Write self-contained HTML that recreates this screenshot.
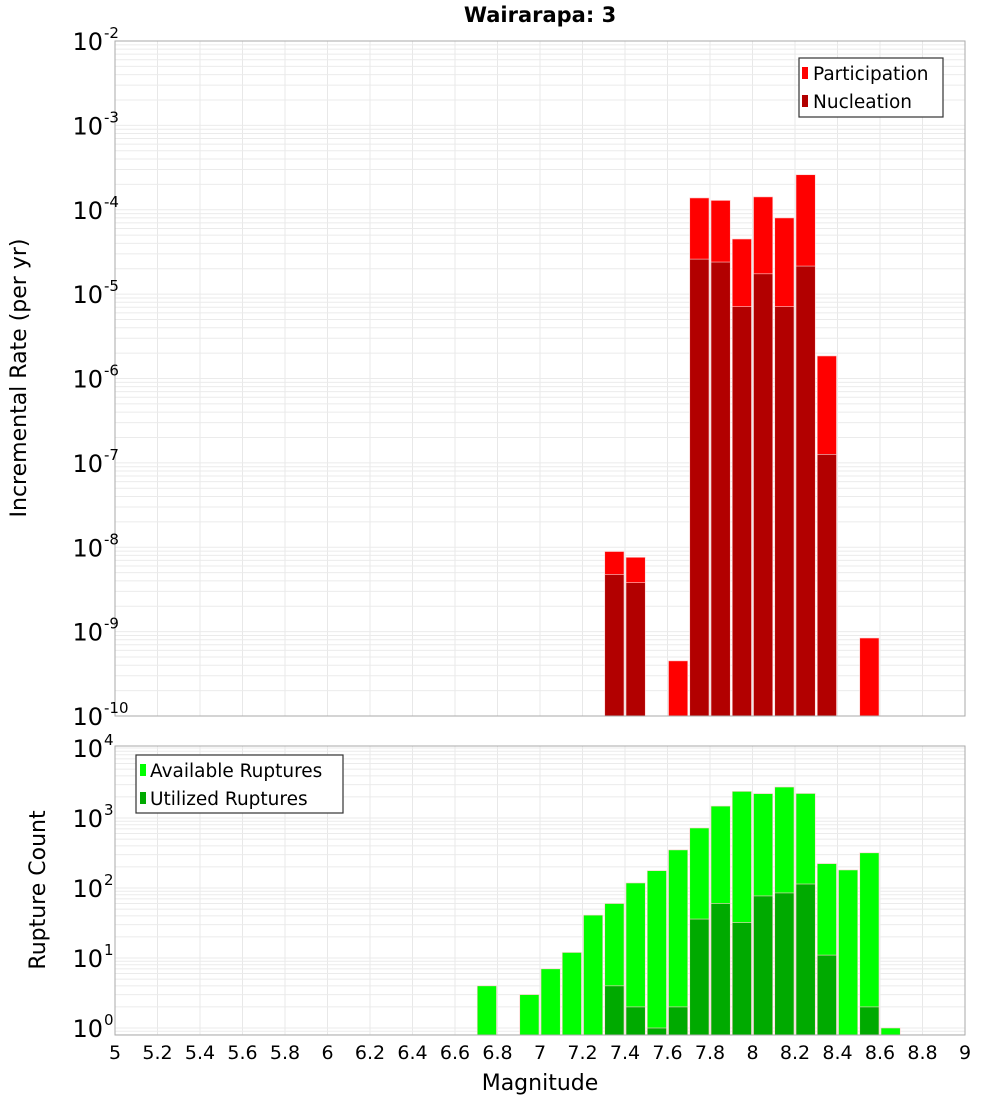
<!DOCTYPE html>
<html><head><meta charset="utf-8"><style>
html,body{margin:0;padding:0;background:#fff;}
svg{display:block;font-family:"DejaVu Sans","Liberation Sans",sans-serif;}
</style></head><body>
<svg id="chart" width="1000" height="1100" viewBox="0 0 1000 1100" xmlns="http://www.w3.org/2000/svg">
<text x="540" y="22" font-size="21" font-weight="bold" text-anchor="middle">Wairarapa: 3</text>
<g id="gtop"></g>
<g id="gbot"></g>
<text transform="translate(26,378) rotate(-90)" font-size="22" text-anchor="middle">Incremental Rate (per yr)</text>
<text transform="translate(45,890) rotate(-90)" font-size="22" text-anchor="middle">Rupture Count</text>
<text x="540" y="1090" font-size="22" text-anchor="middle">Magnitude</text>
<g>
<rect x="799" y="58" width="144" height="59" fill="#fff" stroke="#333" stroke-width="1.2"/>
<rect x="802" y="67" width="6" height="12" fill="#ff0000"/>
<text x="813" y="80" font-size="18.5">Participation</text>
<rect x="802" y="95" width="6" height="12" fill="#b20000"/>
<text x="813" y="108" font-size="18.5">Nucleation</text>
</g>
<g>
<rect x="136" y="755" width="207" height="58" fill="#fff" stroke="#333" stroke-width="1.2"/>
<rect x="140" y="764" width="6" height="12" fill="#00ff00"/>
<text x="150" y="777" font-size="18.5">Available Ruptures</text>
<rect x="140" y="792" width="6" height="12" fill="#00aa00"/>
<text x="150" y="805" font-size="18.5">Utilized Ruptures</text>
</g>
</svg>
<script>
const mags = [6.75,6.95,7.05,7.15,7.25,7.35,7.45,7.55,7.65,7.75,7.85,7.95,8.05,8.15,8.25,8.35,8.45,8.55,8.65];
const participation = [0,0,0,0,0,8.9e-9,7.6e-9,0,4.5e-10,1.38e-4,1.29e-4,4.5e-5,1.42e-4,8e-5,2.6e-4,1.85e-6,0,8.4e-10,0];
const nucleation = [0,0,0,0,0,4.75e-9,3.8e-9,0,0,2.6e-5,2.4e-5,7.1e-6,1.74e-5,7.1e-6,2.15e-5,1.26e-7,0,0,0];
const available = [4,3,7,12,41,60,118,177,350,720,1480,2400,2230,2770,2240,223,181,318,1];
const utilized = [0,0,0,0,0,4,2,1,2,36,60,32,77,85,114,11,0,2,0];
const xTicks = [5,5.2,5.4,5.6,5.8,6,6.2,6.4,6.6,6.8,7,7.2,7.4,7.6,7.8,8,8.2,8.4,8.6,8.8,9];
const topDecades = [-2,-3,-4,-5,-6,-7,-8,-9,-10];
const botDecades = [0,1,2,3,4];

const NS="http://www.w3.org/2000/svg";
const X0=115,X1=965;
const xs=m=>X0+(m-5)/4*(X1-X0);
const T0=41,T1=716;
const yTop=v=>T1-(Math.log10(v)+10)/8*(T1-T0);
const B0=746,B1=1035;
const yBot=v=>1028-Math.log10(v)*70;
function el(p,tag,a){const e=document.createElementNS(NS,tag);for(const k in a)e.setAttribute(k,a[k]);p.appendChild(e);return e;}
const gTop=document.getElementById('gtop'), gBot=document.getElementById('gbot');

function grid(g,y0,y1,yf,dmin,dmax){
  for(const t of xTicks){const l=el(g,'line',{x1:xs(t),x2:xs(t),y1:y0,y2:y1,stroke:'#e8e8e8','stroke-width':1});
    
    }
  for(let d=dmin;d<=dmax;d++)for(let k=1;k<10;k++){const y=yf(k*Math.pow(10,d));if(y<y0-0.5||y>y1+0.5)continue;
    const l=el(g,'line',{x1:X0,x2:X1,y1:y,y2:y,stroke:'#ebebeb','stroke-width':1});
    
    }
}
grid(gTop,T0,T1,yTop,-10,-3);
grid(gBot,B0,B1,yBot,-1,4);

const bw=(X1-X0)/40;
function bars(g,vals,yf,base,fill,name){
  vals.forEach((v,i)=>{if(v<=0)return;const y=yf(v);
    const r=el(g,'rect',{x:xs(mags[i])-bw/2+1,y:y,width:bw-2,height:base-y,fill:fill,stroke:'#ffd0d0','stroke-width':0.6});
    
    });
}
bars(gTop,participation,yTop,T1,'#ff0000','participation-bar');
bars(gTop,nucleation,yTop,T1,'#b20000','nucleation-bar');
bars(gBot,available,yBot,B1,'#00ff00','available-bar');
bars(gBot,utilized,yBot,B1,'#00aa00','utilized-bar');

for(const [g,y0,y1] of [[gTop,T0,T1],[gBot,B0,B1]]){
  const r=el(g,'rect',{x:X0,y:y0,width:X1-X0,height:y1-y0,fill:'none',stroke:'#aaa','stroke-width':1});
  
  
}
function ylab(g,d,y){
  const t=el(g,'text',{x:103,y:y+9,'font-size':24,'text-anchor':'end'});
  
  
  t.textContent='10';
  const s=el(g,'text',{x:104,y:y-3,'font-size':15});
  
  
  s.textContent=String(d);
}
topDecades.forEach(d=>ylab(gTop,d,yTop(Math.pow(10,d))));
botDecades.forEach(d=>ylab(gBot,d,yBot(Math.pow(10,d))));
xTicks.forEach(t=>{const e=el(gBot,'text',{x:xs(t),y:1059,'font-size':19,'text-anchor':'middle'});
  
  
  e.textContent=String(t);});
</script>
</body></html>
